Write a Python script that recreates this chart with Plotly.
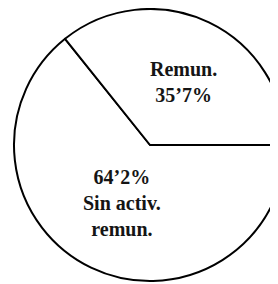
import plotly.graph_objects as go

labels = ["Sin activ.<br>remun.", "Remun."]
values = [64.2, 35.7]

def fmt(v):
    return f"{v:.1f}".replace(".", "’") + "%"

# page body has an 8px default margin; figure coords below are relative to the figure
W, H = 280, 276

fig = go.Figure(go.Pie(
    labels=labels,
    values=values,
    sort=False,
    direction="counterclockwise",
    rotation=90,
    textinfo="none",
    hoverinfo="none",
    marker=dict(colors=["white", "white"], line=dict(color="black", width=2)),
    domain=dict(x=[6 / W, 278 / W], y=[3 / H, 275 / H]),
    showlegend=False,
))

font = dict(family="Liberation Serif", size=20, color="#151515", weight="bold")
fig.add_annotation(text=f"{labels[1]}<br>{fmt(values[1])}", x=175 / W, y=1 - 74 / H,
                   xref="paper", yref="paper", showarrow=False, font=font,
                   xanchor="center", yanchor="middle", align="center")
fig.add_annotation(text=f"{fmt(values[0])}<br>{labels[0]}", x=114 / W, y=1 - 195 / H,
                   xref="paper", yref="paper", showarrow=False, font=font,
                   xanchor="center", yanchor="middle", align="center")

fig.update_layout(
    width=W, height=H,
    margin=dict(l=0, r=0, t=0, b=0),
    paper_bgcolor="white", plot_bgcolor="white",
)

fig.write_html("out.html")
